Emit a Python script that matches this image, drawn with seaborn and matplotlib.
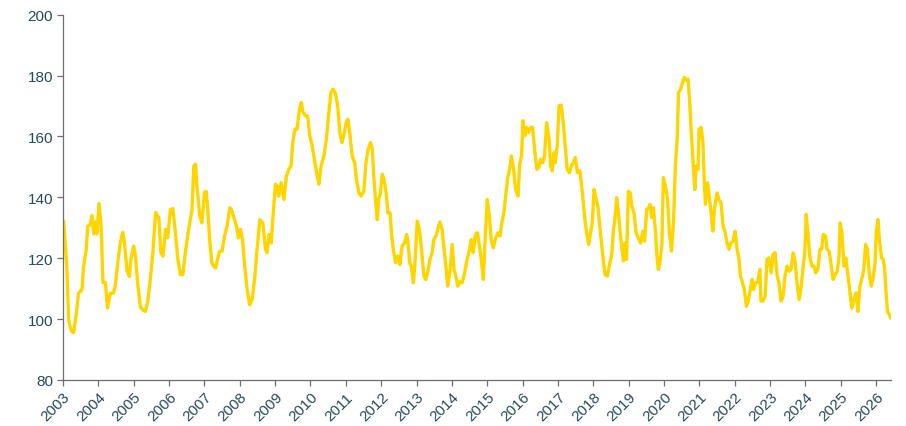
import numpy as np
import pandas as pd
import matplotlib
matplotlib.use("Agg")
import matplotlib.pyplot as plt
import seaborn as sns

# decimal year, index value
years = [
    2003.02, 2003.11, 2003.16, 2003.21, 2003.25, 2003.30, 2003.38, 2003.44, 2003.54, 2003.58,
    2003.66, 2003.70, 2003.77, 2003.82, 2003.87, 2003.92, 2003.96, 2004.02, 2004.08, 2004.13,
    2004.20, 2004.26, 2004.34, 2004.43, 2004.48, 2004.55, 2004.62, 2004.69, 2004.74, 2004.81,
    2004.88, 2004.92, 2005.00, 2005.05, 2005.11, 2005.19, 2005.26, 2005.33, 2005.40, 2005.47,
    2005.55, 2005.62, 2005.71, 2005.77, 2005.83, 2005.90, 2005.96, 2006.04, 2006.11, 2006.18,
    2006.25, 2006.32, 2006.39, 2006.46, 2006.54, 2006.60, 2006.65, 2006.70, 2006.75, 2006.79,
    2006.87, 2006.93, 2007.00, 2007.05, 2007.09, 2007.15, 2007.21, 2007.26, 2007.32, 2007.38,
    2007.43, 2007.50, 2007.57, 2007.64, 2007.72, 2007.78, 2007.85, 2007.91, 2007.96, 2008.02,
    2008.08, 2008.13, 2008.21, 2008.28, 2008.35, 2008.42, 2008.49, 2008.57, 2008.65, 2008.73,
    2008.77, 2008.83, 2008.89, 2008.94, 2009.01, 2009.06, 2009.10, 2009.17, 2009.25, 2009.32,
    2009.39, 2009.45, 2009.50, 2009.56, 2009.62, 2009.69, 2009.74, 2009.79, 2009.86, 2009.92,
    2009.98, 2010.05, 2010.11, 2010.19, 2010.24,
    2010.30, 2010.38, 2010.45, 2010.52, 2010.58, 2010.64, 2010.71, 2010.77, 2010.83, 2010.89,
    2010.94, 2011.01, 2011.06, 2011.11, 2011.18, 2011.25, 2011.30, 2011.37, 2011.43, 2011.51,
    2011.57, 2011.63, 2011.70, 2011.75, 2011.79, 2011.84, 2011.89, 2011.93, 2011.98, 2012.03,
    2012.08, 2012.14, 2012.19, 2012.25, 2012.29, 2012.34, 2012.41, 2012.47, 2012.53, 2012.59,
    2012.66, 2012.72, 2012.75, 2012.81, 2012.85, 2012.91, 2012.95, 2013.02, 2013.08, 2013.14,
    2013.21, 2013.26, 2013.32, 2013.38, 2013.44, 2013.49, 2013.55, 2013.60, 2013.66, 2013.72,
    2013.77, 2013.83, 2013.88, 2013.94, 2014.01, 2014.06, 2014.11, 2014.17, 2014.23, 2014.29,
    2014.36, 2014.43, 2014.50, 2014.55, 2014.60, 2014.67, 2014.72, 2014.78, 2014.83, 2014.89,
    2014.93, 2015.00, 2015.06, 2015.11, 2015.17, 2015.24, 2015.30, 2015.36, 2015.42, 2015.47,
    2015.53, 2015.58, 2015.64, 2015.68, 2015.74, 2015.80, 2015.87, 2015.92, 2015.97, 2016.01,
    2016.06, 2016.11, 2016.17, 2016.23, 2016.28, 2016.34, 2016.40, 2016.46, 2016.51, 2016.57,
    2016.62, 2016.68, 2016.75, 2016.79, 2016.84, 2016.89, 2016.92, 2016.98, 2017.03, 2017.09,
    2017.15, 2017.22, 2017.26, 2017.32, 2017.38, 2017.43, 2017.49, 2017.55, 2017.62, 2017.69,
    2017.75, 2017.81, 2017.87, 2017.92, 2017.97, 2018.02, 2018.08, 2018.13, 2018.19,
    2018.28, 2018.33, 2018.40, 2018.45, 2018.52, 2018.57, 2018.61, 2018.66, 2018.71, 2018.75,
    2018.80, 2018.85, 2018.90, 2018.94, 2018.99, 2019.04, 2019.09, 2019.15, 2019.21, 2019.27,
    2019.34, 2019.40, 2019.45, 2019.51, 2019.57, 2019.60, 2019.65, 2019.70, 2019.76, 2019.79,
    2019.84, 2019.89, 2019.94, 2019.98, 2020.04, 2020.10, 2020.15, 2020.21, 2020.27, 2020.32,
    2020.37, 2020.41, 2020.47, 2020.51, 2020.57, 2020.63, 2020.68, 2020.72, 2020.77, 2020.81,
    2020.87, 2020.91, 2020.96, 2020.99, 2021.05, 2021.10, 2021.14, 2021.17, 2021.23, 2021.29,
    2021.34, 2021.38, 2021.43, 2021.50, 2021.55, 2021.61, 2021.67, 2021.72, 2021.78, 2021.84,
    2021.89, 2021.95, 2022.01, 2022.06, 2022.12, 2022.16, 2022.21, 2022.27, 2022.33, 2022.38,
    2022.42, 2022.49, 2022.53, 2022.59, 2022.65, 2022.71, 2022.74, 2022.80, 2022.86, 2022.91,
    2022.96, 2023.03, 2023.08, 2023.14, 2023.20, 2023.25, 2023.31, 2023.37, 2023.42, 2023.48,
    2023.54, 2023.59, 2023.65, 2023.71, 2023.76, 2023.82, 2023.88, 2023.93, 2023.98, 2024.02,
    2024.07, 2024.12, 2024.18, 2024.24, 2024.29, 2024.35, 2024.41, 2024.46, 2024.50, 2024.57,
    2024.61, 2024.67, 2024.73, 2024.78, 2024.84, 2024.90, 2024.95, 2024.98, 2025.03, 2025.09,
    2025.14, 2025.20, 2025.26, 2025.31, 2025.37, 2025.43, 2025.48, 2025.54, 2025.60, 2025.65,
    2025.70, 2025.75, 2025.81, 2025.86, 2025.92, 2025.97, 2026.00, 2026.05, 2026.09, 2026.15,
    2026.20, 2026.24, 2026.28, 2026.32, 2026.37, 2026.41,
]
values = [
    132.2, 117.0, 100.0, 97.0, 96.0, 95.5, 102.0, 108.5, 109.7, 117.0,
    123.0, 130.5, 131.0, 134.0, 128.0, 132.0, 128.0, 138.0, 130.5, 112.0,
    112.0, 103.6, 108.5, 108.5, 111.0, 118.5, 125.0, 128.5, 125.0, 116.0,
    114.0, 119.6, 124.0, 120.7, 112.0, 104.0, 103.0, 102.5, 106.0, 113.0,
    123.0, 135.0, 133.3, 121.8, 120.7, 129.5, 126.7, 136.0, 136.3, 128.4,
    119.6, 114.6, 114.6, 121.8, 128.4, 132.7, 136.0, 150.3, 150.9, 143.7,
    133.8, 131.6, 141.5, 142.0, 137.0, 126.0, 118.5, 117.4, 116.8, 120.1,
    122.3, 122.3, 127.3, 130.5, 136.6, 135.5, 132.7, 130.5, 126.7, 129.5,
    126.0, 118.5, 109.7, 104.7, 106.4, 113.0, 122.9, 132.7, 131.6, 122.9,
    121.8, 127.8, 125.0, 133.8, 144.3, 143.7, 140.4, 144.8, 139.3, 147.0,
    149.2, 150.3, 158.0, 162.4, 162.4, 169.0, 171.2, 168.0, 166.8, 166.8,
    160.2, 156.9, 152.5, 147.0, 144.3,
    150.3, 153.6, 159.1, 167.9, 174.5, 175.6, 174.0, 170.0, 161.3, 158.0,
    160.2, 164.6, 165.7, 161.3, 153.6, 151.4, 145.9, 141.5, 140.4, 142.0,
    151.4, 155.8, 158.0, 155.8, 147.0, 139.3, 132.7, 139.3, 141.5, 147.6,
    145.9, 141.5, 134.9, 134.9, 128.4, 122.9, 118.5, 120.7, 117.9, 124.0,
    125.0, 127.8, 126.0, 118.5, 117.4, 111.9, 117.4, 132.2, 129.5, 122.9,
    114.1, 113.0, 115.7, 119.6, 121.8, 126.2, 127.3, 129.5, 131.9, 129.5,
    124.0, 117.4, 110.8, 115.2, 124.5, 116.3, 114.1, 110.8, 112.4, 111.9,
    115.2, 119.6, 122.9, 126.2, 121.8, 127.8, 128.4, 124.0, 119.6, 113.0,
    124.0, 139.3, 133.8, 126.2, 123.4, 126.7, 128.4, 127.3, 132.2, 134.9,
    141.5, 146.4, 149.8, 153.6, 149.8, 142.6, 140.4, 151.4, 153.6, 165.2,
    160.2, 163.0, 161.3, 163.0, 163.0, 155.8, 149.2, 149.8, 152.5, 151.4,
    153.6, 164.6, 159.1, 150.3, 148.7, 154.7, 151.4, 156.9, 170.1, 170.3,
    164.6, 154.7, 149.2, 148.1, 150.3, 151.4, 153.1, 148.1, 148.7, 141.5,
    133.8, 128.4, 124.5, 128.4, 131.6, 142.6, 139.3, 137.0, 129.5,
    119.6, 114.6, 114.1, 117.4, 121.2, 129.5, 132.7, 139.9, 134.9, 129.5,
    124.0, 119.1, 125.0, 119.6, 142.0, 141.5, 137.0, 134.9, 128.4, 126.7,
    125.0, 128.9, 125.6, 136.0, 136.6, 137.7, 133.3, 136.6, 128.4, 121.8,
    116.3, 119.1, 125.0, 146.5, 143.7, 139.3, 128.4, 122.3, 132.7, 150.3,
    159.1, 174.5, 175.6, 177.3, 179.5, 178.4, 178.9, 172.3, 161.3, 153.6,
    142.6, 150.3, 149.2, 162.4, 163.0, 158.0, 144.8, 137.7, 144.8, 139.3,
    133.8, 128.9, 136.6, 141.5, 139.3, 138.2, 130.5, 128.9, 125.0, 122.9,
    125.0, 125.6, 128.9, 123.4, 119.6, 114.1, 112.4, 109.7, 104.2, 105.9,
    108.6, 113.0, 109.7, 111.9, 112.1, 116.3, 105.9, 105.9, 107.5, 119.6,
    120.1, 115.2, 121.2, 121.8, 114.1, 111.9, 105.9, 107.5, 114.1, 117.4,
    115.7, 116.3, 121.8, 118.5, 111.9, 106.4, 110.8, 116.8, 121.8, 134.4,
    128.4, 120.7, 117.4, 117.4, 115.2, 116.3, 122.9, 122.9, 127.8, 127.3,
    122.9, 122.3, 117.4, 113.0, 114.6, 115.7, 120.7, 131.6, 128.4, 117.4,
    120.1, 114.6, 108.6, 103.6, 106.4, 108.6, 102.5, 110.8, 113.5, 116.3,
    124.5, 122.9, 114.1, 110.8, 114.1, 118.5, 128.4, 132.7, 126.2, 120.1,
    119.6, 116.3, 108.6, 102.5, 101.4, 100.3,
]
tick_years = list(range(2003, 2027))
y_ticks = [80, 100, 120, 140, 160, 180, 200]

df = pd.DataFrame({"year": years, "value": values})

sns.set_style("white")
plt.rcParams["font.family"] = ["Liberation Sans", "DejaVu Sans"]

text_col = "#254a5a"
spine_col = "#6e6e6e"

fig = plt.figure(figsize=(9.06, 4.27), dpi=100)
ax = fig.add_axes([0.0695, 0.108, 0.914, 0.855])

sns.lineplot(data=df, x="year", y="value", ax=ax, color="#FFD500", linewidth=2.4)

ax.set_xlim(2003, 2026.42)
ax.set_ylim(80, 200)
ax.set_xticks(tick_years)
ax.set_xticklabels([str(y) for y in tick_years], rotation=45, ha="right",
                   rotation_mode="anchor", fontsize=11, color=text_col)
ax.set_yticks(y_ticks)
ax.set_yticklabels([str(v) for v in y_ticks], fontsize=11, color=text_col)
ax.set_xlabel("")
ax.set_ylabel("")

for side in ["top", "right"]:
    ax.spines[side].set_visible(False)
for side in ["left", "bottom"]:
    ax.spines[side].set_color(spine_col)
    ax.spines[side].set_linewidth(0.9)

ax.tick_params(axis="both", which="major", length=4, width=0.9, color=spine_col,
               direction="out", bottom=True, left=True, pad=3)

fig.savefig("out.png", dpi=100)
